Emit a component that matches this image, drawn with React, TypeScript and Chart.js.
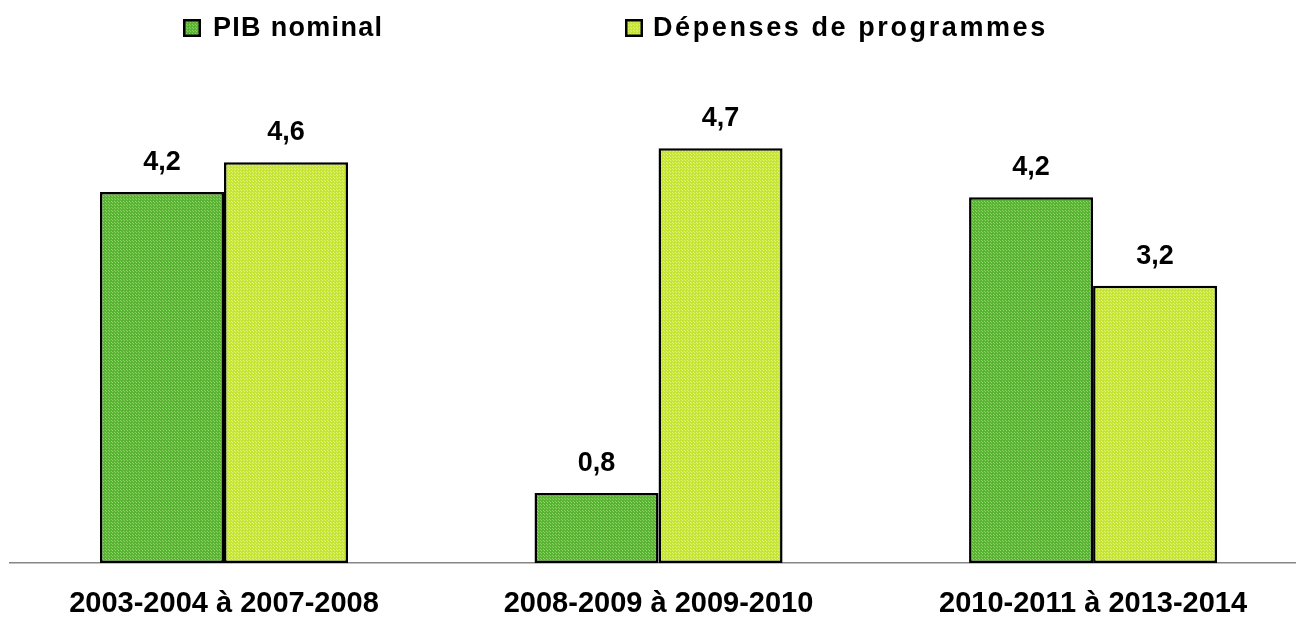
import React, { useEffect, useRef } from "react";
import { Chart, registerables } from "chart.js";

Chart.register(...registerables);

const categories = [
  "2003-2004 à 2007-2008",
  "2008-2009 à 2009-2010",
  "2010-2011 à 2013-2014",
];
const seriesLabels = ["PIB nominal", "Dépenses de programmes"];
const pibNominal = [4.24, 0.8, 4.18];
const depensesProgrammes = [4.58, 4.74, 3.17];

const FONT = "'Liberation Sans', Arial, sans-serif";

function makePattern(base: string, dot: string): CanvasPattern | string {
  const c = document.createElement("canvas");
  c.width = 3;
  c.height = 3;
  const g = c.getContext("2d");
  if (!g) return base;
  g.fillStyle = base;
  g.fillRect(0, 0, 3, 3);
  g.fillStyle = dot;
  g.fillRect(0, 0, 1, 1);
  g.fillRect(1, 1, 1, 1);
  const p = g.createPattern(c, "repeat");
  return p || base;
}

const fmt = (v: number) => (Math.round(v * 10) / 10).toFixed(1).replace(".", ",");

export default function App() {
  const ref = useRef<HTMLCanvasElement | null>(null);

  useEffect(() => {
    if (!ref.current) return;
    const darkFill = makePattern("#5ab434", "#8ed266");
    const lightFill = makePattern("#c6e436", "#e2f47a");
    const fills = [darkFill, lightFill];

    const legendItems = [
      { box: [183, 19], text: [213, 36], spacing: 1.3 },
      { box: [625, 19], text: [653, 36], spacing: 2.6 },
    ];

    const legendPlugin = {
      id: "customLegend",
      afterDraw(chart: any) {
        const ctx = chart.ctx as CanvasRenderingContext2D;
        ctx.save();
        seriesLabels.forEach((label, i) => {
          const it = legendItems[i];
          ctx.fillStyle = fills[i] as any;
          ctx.fillRect(it.box[0], it.box[1], 18, 18);
          ctx.strokeStyle = "#000";
          ctx.lineWidth = 2.5;
          ctx.strokeRect(it.box[0] + 1.25, it.box[1] + 1.25, 15.5, 15.5);
          ctx.fillStyle = "#000";
          ctx.font = `bold 27px ${FONT}`;
          (ctx as any).letterSpacing = `${it.spacing}px`;
          ctx.textAlign = "left";
          ctx.textBaseline = "alphabetic";
          ctx.fillText(label, it.text[0], it.text[1]);
        });
        ctx.restore();
      },
    };

    const labelPlugin = {
      id: "valueLabels",
      afterDatasetsDraw(chart: any) {
        const ctx = chart.ctx as CanvasRenderingContext2D;
        ctx.save();
        ctx.font = `bold 27px ${FONT}`;
        ctx.fillStyle = "#000";
        ctx.textAlign = "center";
        ctx.textBaseline = "alphabetic";
        chart.data.datasets.forEach((ds: any, di: number) => {
          const meta = chart.getDatasetMeta(di);
          meta.data.forEach((bar: any, i: number) => {
            const v = ds.data[i].y;
            ctx.fillText(fmt(v), bar.x, bar.y - 22);
          });
        });
        ctx.restore();
      },
    };

    const chart = new Chart(ref.current, {
      type: "bar",
      data: {
        datasets: [
          {
            label: seriesLabels[0],
            data: pibNominal.map((v, i) => ({ x: i, y: v })),
            backgroundColor: darkFill as any,
            borderColor: "#000",
            borderWidth: 2.5,
            borderSkipped: false,
          },
          {
            label: seriesLabels[1],
            data: depensesProgrammes.map((v, i) => ({ x: i, y: v })),
            backgroundColor: lightFill as any,
            borderColor: "#000",
            borderWidth: 2.5,
            borderSkipped: false,
          },
        ],
      },
      options: {
        animation: false,
        responsive: false,
        maintainAspectRatio: false,
        categoryPercentage: 0.5708,
        barPercentage: 1,
        layout: { padding: { top: 108, left: 10, right: 0, bottom: 0 } },
        plugins: {
          legend: { display: false },
          tooltip: { enabled: false },
        },
        scales: {
          x: {
            type: "linear",
            offset: false,
            bounds: "ticks",
            min: -0.4925,
            max: 2.467,
            afterBuildTicks: (scale: any) => {
              scale.ticks = categories.map((_, i) => ({ value: i }));
            },
            afterFit: (scale: any) => {
              scale.height = 55;
            },
            grid: { display: false, drawTicks: false },
            border: { display: true, color: "#868686", width: 1.5 },
            ticks: {
              autoSkip: false,
              maxRotation: 0,
              padding: 24,
              color: "#000",
              font: { family: FONT, size: 29, weight: "bold", lineHeight: 1.2 },
              callback: (value: any) => categories[Number(value)] ?? "",
            },
          },
          y: {
            display: false,
            min: 0,
            max: 5.2,
          },
        },
      } as any,
      plugins: [legendPlugin, labelPlugin],
    });
    return () => chart.destroy();
  }, []);

  return (
    <div style={{ position: "absolute", left: 0, top: 0, width: 1296, height: 618 }}>
      <canvas ref={ref} width={1296} height={618} style={{ display: "block" }} />
    </div>
  );
}
